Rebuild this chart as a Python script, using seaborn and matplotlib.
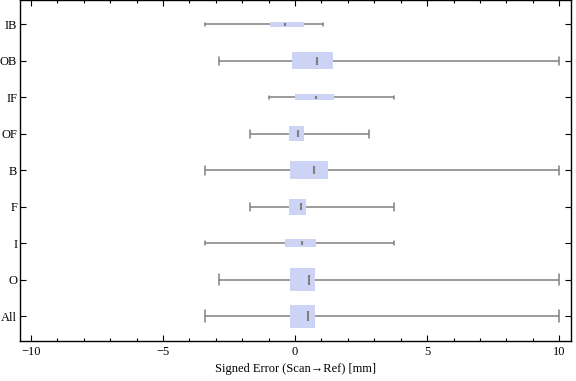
import numpy as np
import pandas as pd
import matplotlib
matplotlib.use("Agg")
import matplotlib.pyplot as plt
from matplotlib.ticker import MultipleLocator
import seaborn as sns

# Categories from top to bottom
categories = ["IB", "OB", "IF", "OF", "B", "F", "I", "O", "All"]

# Five-number summaries (mm)
mins    = [-3.40, -2.87, -0.97, -1.69, -3.40, -1.69, -3.40, -2.87, -3.40]
q1s     = [-0.95, -0.11,  0.00, -0.23, -0.19, -0.23, -0.38, -0.19, -0.19]
medians = [-0.39,  0.83,  0.80,  0.11,  0.72,  0.21,  0.27,  0.53,  0.50]
q3s     = [ 0.34,  1.44,  1.48,  0.34,  1.25,  0.42,  0.80,  0.76,  0.76]
maxs    = [ 1.05, 10.00,  3.76,  2.79, 10.00,  3.76,  3.76, 10.00, 10.00]

# box thickness differs per group
box_widths = [0.16, 0.47, 0.16, 0.41, 0.49, 0.44, 0.22, 0.63, 0.63]

box_color = "#cdd3f5"
line_color = "#808080"

sns.set_theme(style="ticks")
plt.rcParams["font.family"] = ["Liberation Serif", "DejaVu Serif"]
plt.rcParams["text.color"] = "black"
plt.rcParams["xtick.color"] = "black"
plt.rcParams["ytick.color"] = "black"
plt.rcParams["axes.labelcolor"] = "black"

fig = plt.figure(figsize=(5.76, 3.81), dpi=100)
ax = fig.add_axes([0.0347, 0.105, 0.9566, 0.894])

for i, cat in enumerate(categories):
    vals = [mins[i], q1s[i], medians[i], q3s[i], maxs[i]]
    df = pd.DataFrame({"err": vals, "group": [cat] * len(vals)})
    sns.boxplot(data=df, x="err", y="group", order=categories, ax=ax,
                whis=(0, 100), width=box_widths[i], color=box_color,
                saturation=1, linecolor=line_color, linewidth=1.1,
                showfliers=False,
                boxprops=dict(linewidth=0),
                medianprops=dict(color="#808080", linewidth=1.5, gid="median"))

# Median shown as a short mark in the middle of the box
for ln in ax.lines:
    if ln.get_gid() == "median":
        y = np.asarray(ln.get_ydata(), dtype=float)
        c = y.mean()
        ln.set_ydata(c + (y - c) * 0.45)

ax.set_xlim(-10.42, 10.45)
ax.set_ylim(8.68, -0.66)
ax.set_xticks([-10, -5, 0, 5, 10])
ax.xaxis.set_minor_locator(MultipleLocator(1))

ax.set_xlabel("Signed Error (Scan\u2192Ref) [mm]", fontsize=9, labelpad=4)
ax.set_ylabel("")

for sp in ax.spines.values():
    sp.set_visible(True)
    sp.set_color("black")
    sp.set_linewidth(1.0)

ax.tick_params(axis="both", which="both", direction="in", top=True,
               right=True, color="black", labelcolor="black", labelsize=9,
               width=0.8)
ax.tick_params(axis="x", which="major", length=4, pad=3.5)
ax.tick_params(axis="x", which="minor", length=2.5)
ax.tick_params(axis="y", which="major", length=4, pad=2)

fig.savefig("out.png", dpi=100)
